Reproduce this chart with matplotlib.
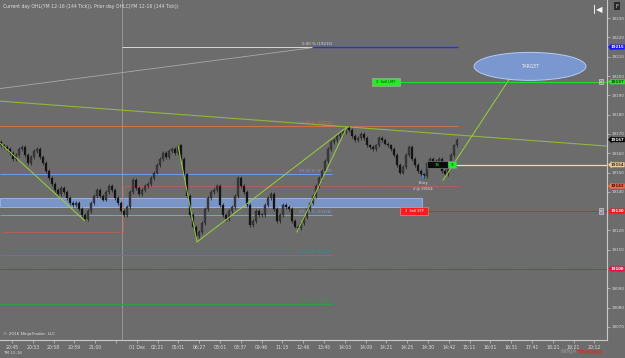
import matplotlib.pyplot as plt
import matplotlib.transforms as mtransforms
from matplotlib.patches import Ellipse, Rectangle

# 144 tick bars, closes (open = previous close)
first_open = 19166
closes = [19164, 19163, 19162, 19160, 19157, 19159, 19162, 19163, 19159, 19155,
          19158, 19161, 19162, 19158, 19155, 19151, 19147, 19144, 19141, 19139,
          19142, 19140, 19137, 19134, 19133, 19134, 19131, 19128, 19126, 19130,
          19134, 19138, 19141, 19138, 19136, 19140, 19143, 19141, 19137, 19134,
          19130, 19128, 19132, 19140, 19146, 19142, 19139, 19141, 19143, 19144,
          19147, 19150, 19154, 19157, 19160, 19158, 19161, 19162, 19160, 19164,
          19157, 19149, 19138, 19128, 19122, 19117, 19119, 19124, 19131, 19137,
          19140, 19141, 19143, 19133, 19128, 19126, 19130, 19132, 19138, 19147,
          19143, 19140, 19133, 19123, 19125, 19130, 19128, 19128, 19133, 19137,
          19139, 19131, 19125, 19128, 19133, 19132, 19131, 19125, 19122, 19121,
          19124, 19127, 19131, 19134, 19138, 19143, 19147, 19151, 19156, 19162,
          19166, 19167, 19169, 19170, 19171, 19173, 19172, 19169, 19167, 19168,
          19170, 19168, 19164, 19163, 19162, 19164, 19168, 19167, 19165, 19164,
          19162, 19159, 19154, 19150, 19153, 19159, 19163, 19157, 19154, 19151,
          19149, 19148, 19155, 19157, 19155, 19156, 19157, 19151, 19149, 19154,
          19159, 19164, 19167]

time_labels = ['20:45', '20:53', '20:58', '20:59', '21:00', '', '01 Dec', '02:21',
               '05:01', '06:27', '08:01', '08:37', '09:46', '11:15', '12:46',
               '13:45', '14:03', '14:09', '14:21', '14:25', '14:30', '14:42',
               '15:11', '16:01', '16:31', '17:41', '18:21', '19:21', '20:12']
price_ticks = list(range(19070, 19240, 10))

fib_names = ['0.00 %', '23.60 %', '38.20 %', '50.00 %', '61.80 %', '76.40 %']
fib_prices = [19215, 19174, 19149, 19128, 19107, 19082]
fib_colors = ['#d8d8d8', '#d2704a', '#6f9cf5', '#7d9fe0', '#1f9a9a', '#2fa040']

marker_prices = [19215, 19197, 19167, 19154, 19143, 19130, 19100]
marker_colors = ['#1414ff', '#22f022', '#050505', '#f0cc9c', '#ff6a50', '#ff1212', '#e4123e']
marker_text = ['white', '#0a3a0a', 'white', '#3a2a10', '#3a0a00', 'white', 'white']

day_high = 19174
day_low = 19143
prior_low = 19119
zone_low, zone_high = 19132, 19137
level_19100 = 19100
sell_limit = 19197
sell_stop = 19130
avg_price = 19154
qty = 3
pnl = 16
target_price = 19205

bg = '#6c6c6c'
fig = plt.figure(figsize=(6.25, 3.58), dpi=100, facecolor=bg)
ax = fig.add_axes([0, 18 / 358, 607 / 625, 340 / 358], facecolor=bg)
ax.set_xlim(-0.33, 202)
ax.set_ylim(19063.2, 19239.4)

def px(x):
    # screen column -> bar index
    return (x - 1) / 3.0

# session break
ax.axvline(px(122), color='#9a9a9a', lw=0.6, zorder=1)

# blue zone
ax.add_patch(Rectangle((px(0), zone_low), px(422) - px(0), zone_high - zone_low,
                       fc='#7e9fdc', ec='#9cc0ff', lw=0.7, alpha=0.8, zorder=1))

# fib levels
for name, p, c in zip(fib_names, fib_prices, fib_colors):
    x0 = px(122) if p == fib_prices[0] else px(0)
    ax.hlines(p, x0, px(332), color=c, lw=0.7, zorder=2)
    ax.text(px(332), p + 0.6, '%s (%d)' % (name, p), color=c, fontsize=2.8,
            ha='right', va='bottom', zorder=2)
ax.hlines(fib_prices[0], px(312), px(458), color='#2a2aff', lw=1.0, zorder=2)

# day high / low, prior low
ax.hlines(day_high, px(0), px(458), color='#d2704a', lw=0.6, zorder=2)
ax.plot([px(3), px(123), px(123), px(458)], [prior_low, prior_low, day_low, day_low],
        color='#e05a46', lw=0.6, ls=(0, (2, 1)), zorder=2)
ax.hlines(level_19100, px(0), px(607), color='#a0203a', lw=0.6, ls=(0, (2, 1)), zorder=2)

# long trend lines
ax.plot([px(0), px(607)], [19187, 19163.7], color='#8fb83a', lw=0.8, zorder=2)
ax.plot([px(0), px(310)], [19193.5, 19214.5], color='#a8a8a8', lw=0.6, zorder=2)

# candles
opens = [first_open] + closes[:-1]
for i, (o, c) in enumerate(zip(opens, closes)):
    lo, hi = min(o, c), max(o, c)
    ax.vlines(i, lo - 1, hi + 1, color='#1a1a1a', lw=0.5, zorder=3)
    ax.bar(i, max(hi - lo, 0.4), bottom=lo, width=0.5,
           color='#3c3c3c' if c >= o else '#141414', edgecolor='#1a1a1a', lw=0.2, zorder=3)

# pattern drawing
g = '#9ad13a'
ax.plot([px(0), px(85)], [19165.3, 19124.9], color=g, lw=0.7, zorder=4)
ax.plot([px(178), px(197), px(347)], [19164.2, 19114, 19173.6], color=g, lw=0.7, zorder=4)
ax.plot([px(297), px(347)], [19119.2, 19173.6], color=g, lw=0.7, zorder=4)
ax.plot([px(443), px(510)], [19146, 19199], color=g, lw=0.7, zorder=4)

# target
ax.add_patch(Ellipse((px(530), target_price), 37.3, 14.5, fc='#7a97d0', ec='#b4ccf6',
                     lw=0.7, zorder=4))
ax.text(px(530), target_price, 'TARGET', color='#f0f0f0', fontsize=3.3,
        ha='center', va='center', zorder=5)

# orders
ax.hlines(sell_limit, px(400), px(607), color='#22e022', lw=0.8, zorder=4)
ax.add_patch(Rectangle((px(372), sell_limit - 2.1), px(400) - px(372), 4.2,
                       fc='#22ee22', ec='#b0b0b0', lw=0.4, zorder=5))
ax.text(px(386), sell_limit, '3  Sell LMT', fontsize=2.6, color='#0a300a',
        ha='center', va='center', zorder=6)
ax.hlines(sell_stop, px(428), px(607), color='#ff1818', lw=0.8, zorder=4)
ax.add_patch(Rectangle((px(400), sell_stop - 2.1), px(428) - px(400), 4.2,
                       fc='#ff1a1a', ec='#b0b0b0', lw=0.4, zorder=5))
ax.text(px(414), sell_stop, '3  Sell STP', fontsize=2.6, color='white',
        ha='center', va='center', zorder=6)
for p in (sell_limit, sell_stop):
    ax.text(px(601), p, 'x', fontsize=3, color='white', ha='center', va='center',
            bbox=dict(boxstyle='square,pad=0.15', fc='#8c8c8c', ec='#e0e0e0', lw=0.4), zorder=6)

# position
ax.hlines(avg_price, px(455), px(607), color='#f0d8b8', lw=0.9, zorder=4)
ax.add_patch(Rectangle((px(427), avg_price - 1.9), px(448) - px(427), 3.8,
                       fc='#0c0c0c', ec='#8a8a8a', lw=0.4, zorder=5))
ax.text(px(437), avg_price, str(pnl), fontsize=3, color='#22ee22',
        ha='center', va='center', zorder=6)
ax.add_patch(Rectangle((px(448), avg_price - 1.9), px(456) - px(448), 3.8,
                       fc='#22ee22', ec='#8a8a8a', lw=0.4, zorder=5))
ax.text(px(452), avg_price, str(qty), fontsize=3, color='#0a0a0a',
        ha='center', va='center', zorder=6)

# entry
ax.annotate('', xy=(px(423), 19150.5), xytext=(px(423), 19146),
            arrowprops=dict(arrowstyle='-|>', color='#3d8bff', lw=0.7, mutation_scale=3), zorder=6)
ax.text(px(423), 19144.5, 'Entry', fontsize=2.6, color='#e8e8e8', ha='center', va='center', zorder=6)
ax.text(px(423), 19142, '%d @ %d' % (qty, avg_price), fontsize=2.6, color='#e8e8e8',
        ha='center', va='center', zorder=6)

# axes styling
for s in ('left', 'top'):
    ax.spines[s].set_visible(False)
for s in ('right', 'bottom'):
    ax.spines[s].set_color('#c8c8c8')
    ax.spines[s].set_linewidth(0.8)
ax.yaxis.tick_right()
ax.set_yticks(price_ticks)
ax.set_yticklabels([str(p) for p in price_ticks])
tick_px = [12 + 20.8 * k for k in range(len(time_labels))]
ax.set_xticks([px(t) for t in tick_px])
ax.set_xticklabels(time_labels)
ax.tick_params(axis='x', colors='#c8c8c8', labelcolor='#dcdcdc', labelsize=3.3,
               length=2, width=0.5, pad=1.5)
ax.tick_params(axis='y', colors='#c8c8c8', labelcolor='#dcdcdc', labelsize=3.0,
               length=2, width=0.5, pad=1.0)

trans = mtransforms.blended_transform_factory(ax.transAxes, ax.transData)
for p, c, tc in zip(marker_prices, marker_colors, marker_text):
    ax.text(1.006, p, str(p), transform=trans, fontsize=2.8, color=tc, weight='bold',
            ha='left', va='center', zorder=7, clip_on=False,
            bbox=dict(boxstyle='larrow,pad=0.12', fc=c, ec='none'))

ax.text(0.005, 0.988, 'Current day OHL(YM 12-16 (144 Tick)), Prior day OHLC(YM 12-16 (144 Tick))',
        transform=ax.transAxes, fontsize=3.3, color='#e0e0e0', ha='left', va='top')
ax.text(0.005, 0.012, '\u00a9 2016 NinjaTrader, LLC', transform=ax.transAxes,
        fontsize=3.1, color='#e0e0e0', ha='left', va='bottom')
fig.text(3 / 625, 1 - 353 / 358, 'YM 12-16', fontsize=3, color='#d8d8d8', ha='left', va='center')
fig.text(598 / 625, 1 - 9 / 358, '|\u25c0', fontsize=6, color='white', ha='center', va='center',
         weight='bold')
fig.text(617 / 625, 1 - 6 / 358, 'F', fontsize=4, color='#d0d0d0', ha='center', va='center',
         bbox=dict(boxstyle='square,pad=0.3', fc='#2a2a2a', ec='none'))
fig.text(577 / 625, 1 - 352 / 358, 'NINJA', fontsize=4.2, color='#9a9a9a', ha='right', va='center')
fig.text(577 / 625, 1 - 352 / 358, 'TRADER', fontsize=4.2, color='#c0392b', ha='left', va='center',
         weight='bold')

fig.savefig('out.png', dpi=100, facecolor=bg)
